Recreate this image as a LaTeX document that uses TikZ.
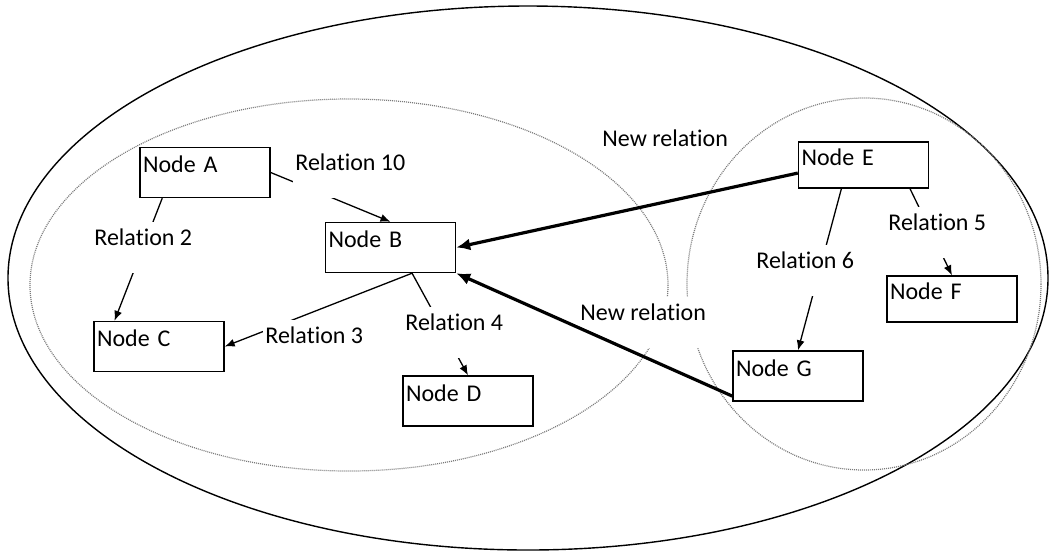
\documentclass[tikz,border=0pt]{standalone}
\usepackage{fontspec}
\setmainfont{Carlito}[Ligatures=NoCommon]
\usepackage{tikz}
\usetikzlibrary{arrows.meta}
\tikzset{>={Latex[length=5pt, width=4pt]}}
\definecolor{ringgray}{HTML}{7A7A7A}

\begin{document}
\begin{tikzpicture}[x=0.5pt, y=-0.5pt, font=\fontsize{12}{14}\selectfont,
        nodebox/.style={draw, fill=white, line width=0.7pt, inner xsep=1.5pt, inner ysep=4.5pt, text width=62pt, align=left, text height=8pt, text depth=8pt},
        relbox/.style={fill=white, anchor=north west, inner xsep=1pt, inner ysep=3.7pt, text height=8pt, text depth=10pt},
        rel/.style={->, line width=0.65pt},
        newrel/.style={-{Latex[length=7pt, width=6pt]}, line width=1.6pt}]
            \useasboundingbox (0, 0) rectangle (1050, 554);
            \draw[line width=0.7pt] (528, 278) ellipse [x radius=520, y radius=272];
            \draw[ringgray, line width=0.6pt, dash pattern=on 0.5pt off 0.5pt] (349, 285) ellipse [x radius=319, y radius=186];
            \draw[ringgray, line width=0.6pt, dash pattern=on 0.5pt off 0.5pt] (864, 284) ellipse [x radius=177, y radius=186];
            \node[nodebox] (A) at (205, 172.5) {Node A};
            \node[nodebox] (B) at (390.5, 247.5) {Node B};
            \node[nodebox] (C) at (159, 346.5) {Node C};
            \node[nodebox] (D) at (468, 401) {Node D};
            \node[nodebox, inner ysep=3.7pt, text depth=7.6pt] (E) at (863.5, 165) {Node E};
            \node[nodebox, inner ysep=3.7pt, text depth=7.6pt] (F) at (952, 299) {Node F};
            \node[nodebox] (G) at (798, 376) {Node G};
            \draw[rel] (A.east) -- (B.north);
            \draw[rel] (A.211) -- (C.150);
            \draw[rel] (B.310) -- (C.east);
            \draw[rel] (B.310) -- (D.north);
            \draw[rel] (E.333) -- (F.north);
            \draw[rel] (E.227) -- (G.north);
            \node[relbox] (r10) at (293, 147) {Relation 10};
            \node[relbox] (r2) at (92, 222) {Relation 2};
            \node[relbox] (r3) at (263, 320) {Relation 3};
            \node[relbox] (r4) at (403, 307) {Relation 4};
            \node[relbox] (r5) at (886, 207) {Relation 5};
            \node[relbox] (r6) at (754, 245) {Relation 6};
            \node[relbox, fill=none] (newtop) at (600, 123) {New relation};
            \node[relbox] (newlow) at (578, 297) {New relation};
            \draw[newrel] (E.187) -- (B.east);
            \draw[newrel] (G.197) -- (B.south east);
        \end{tikzpicture}
\end{document}
